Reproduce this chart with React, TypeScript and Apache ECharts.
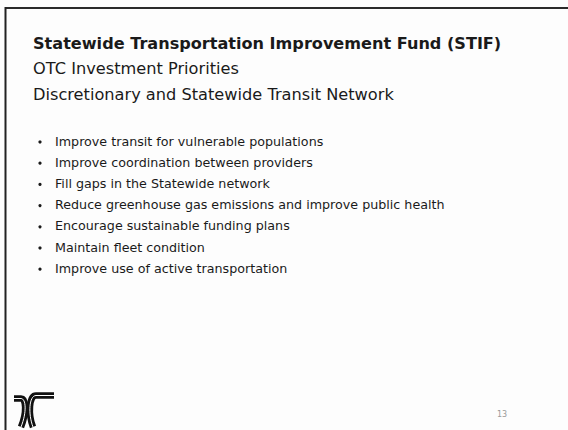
import React, { useEffect, useRef } from "react";
import * as echarts from "echarts";

const titleLines = ["Statewide Transportation Improvement Fund (STIF)"];
const subtitleLines = ["OTC Investment Priorities", "Discretionary and Statewide Transit Network"];
const bullets = [
  "Improve transit for vulnerable populations",
  "Improve coordination between providers",
  "Fill gaps in the Statewide network",
  "Reduce greenhouse gas emissions and improve public health",
  "Encourage sustainable funding plans",
  "Maintain fleet condition",
  "Improve use of active transportation",
];
const pageNumber = "13";

const FONT = "'DejaVu Sans', sans-serif";

export default function App() {
  const ref = useRef<HTMLDivElement>(null);
  useEffect(() => {
    document.body.style.margin = "0";
    const chart = echarts.init(ref.current!, undefined, { renderer: "svg" });
    const elements: any[] = [];
    elements.push({ type: "rect", shape: { x: 0, y: 0, width: 568, height: 430 }, style: { fill: "#fdfdfd" } });
    // border
    elements.push({ type: "line", shape: { x1: 5, y1: 8, x2: 568, y2: 8 }, style: { stroke: "#2a2a2a", lineWidth: 2 } });
    elements.push({ type: "line", shape: { x1: 5.5, y1: 7, x2: 5.5, y2: 430 }, style: { stroke: "#222", lineWidth: 2 } });
    elements.push({
      type: "line",
      shape: { x1: 566.5, y1: 120, x2: 566.5, y2: 430 },
      style: {
        lineWidth: 1.5,
        stroke: new echarts.graphic.LinearGradient(0, 0, 0, 1, [
          { offset: 0, color: "rgba(200,200,200,0.3)" },
          { offset: 0.6, color: "rgba(150,150,150,0.8)" },
          { offset: 1, color: "#222" },
        ]),
      },
    });
    titleLines.forEach((t, i) => {
      elements.push({
        type: "text", x: 33, y: 43 + i * 26,
        style: { text: t, fill: "#1a1a1a", font: `bold 16.1px ${FONT}`, textVerticalAlign: "middle" },
      });
    });
    subtitleLines.forEach((t, i) => {
      elements.push({
        type: "text", x: 33, y: 68 + i * 26,
        style: { text: t, fill: "#1a1a1a", font: `16.2px ${FONT}`, textVerticalAlign: "middle" },
      });
    });
    bullets.forEach((t, i) => {
      const y = 141 + i * 21.2;
      elements.push({ type: "circle", shape: { cx: 40, cy: y + 1, r: 1.6 }, style: { fill: "#1a1a1a" } });
      elements.push({
        type: "text", x: 55, y,
        style: { text: t, fill: "#1a1a1a", font: `12.7px ${FONT}`, textVerticalAlign: "middle" },
      });
    });
    // logo
    const logoBars = [
      { x1: 14, y1: 398.5, x2: 21, y2: 398.5 },
      { x1: 54, y1: 395.5, x2: 36, y2: 395.5 },
    ];
    const logoCurves = [
      { x1: 21, y1: 398.5, cpx1: 26, cpy1: 398.5, cpx2: 27, cpy2: 412, x2: 21, y2: 427 },
      { x1: 36, y1: 395.5, cpx1: 29, cpy1: 395.5, cpx2: 28, cpy2: 414, x2: 33, y2: 427 },
    ];
    logoBars.forEach((s) => {
      elements.push({ type: "line", shape: s, style: { stroke: "#111", lineWidth: 6.5 } });
    });
    logoCurves.forEach((s) => {
      elements.push({ type: "bezierCurve", shape: s, style: { stroke: "#111", lineWidth: 6.5, fill: null } });
    });
    logoBars.forEach((s) => {
      elements.push({ type: "line", shape: s, style: { stroke: "#fff", lineWidth: 1 } });
    });
    logoCurves.forEach((s) => {
      elements.push({ type: "bezierCurve", shape: s, style: { stroke: "#fff", lineWidth: 1, fill: null } });
    });
    elements.push({
      type: "text", x: 497, y: 414,
      style: { text: pageNumber, fill: "#9a9a9a", font: `8px ${FONT}`, textVerticalAlign: "middle" },
    });
    chart.setOption({ animation: false, graphic: { elements } });
    return () => chart.dispose();
  }, []);
  return <div ref={ref} style={{ width: 568, height: 430 }} />;
}
